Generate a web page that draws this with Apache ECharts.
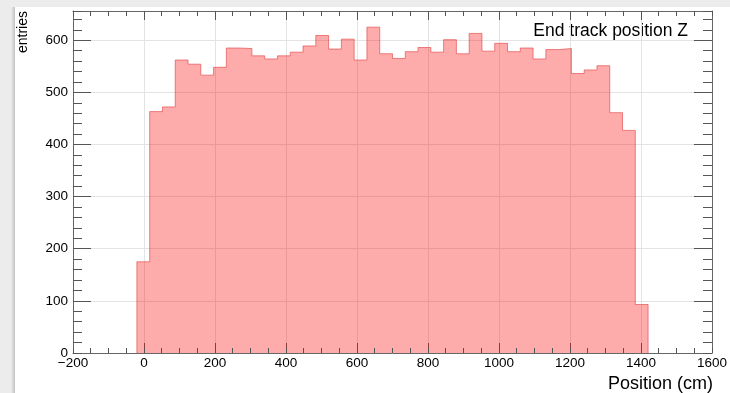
<!DOCTYPE html>
<html>
<head>
<meta charset="utf-8">
<script src="https://cdn.jsdelivr.net/npm/echarts@6/dist/echarts.min.js"></script>
<style>
  html, body { margin: 0; padding: 0; background: #fff; }
  #chart { width: 730px; height: 393px; }
</style>
</head>
<body>
<div id="chart"></div>
<script>
// Histogram bin edges (cm) and entries per bin
const binEdges = [-20, 16, 52, 88, 124, 160, 196, 232, 268, 304, 340, 376, 412, 448,
  484, 520, 556, 592, 628, 664, 700, 736, 772, 808, 844, 880, 916, 952, 988, 1024,
  1060, 1096, 1132, 1168, 1204, 1240, 1276, 1312, 1348, 1384, 1420];
const entries = [175, 463, 472, 562, 554, 533, 548, 585, 584, 570,
  564, 570, 577, 589, 609, 583, 602, 562, 625, 574,
  565, 578, 586, 577, 601, 574, 613, 579, 594, 578,
  585, 564, 582, 584, 536, 543, 551, 461, 427, 93];

// Axis ranges and tick spacing
const xRange = [-200, 1600];
const xSteps = [200, 50];
const yRange = [0, 656];
const ySteps = [100, 20];

const FONT = 'Liberation Sans';
const TICK = '#555';
const FRAME = '#666';

// Step outline: start at zero on the first edge, close back to zero on the last edge
const outline = [[binEdges[0], 0]];
entries.forEach((v, i) => outline.push([binEdges[i], v]));
outline.push([binEdges[binEdges.length - 1], entries[entries.length - 1]]);
outline.push([binEdges[binEdges.length - 1], 0]);

function fmt(v) { return v < 0 ? '\u2212' + Math.abs(v) : String(v); }

function makeAxis(range, pos, step, len, opts) {
  return Object.assign({
    type: 'value', position: pos, min: range[0], max: range[1], interval: step,
    axisLine: { show: false, onZero: false },
    axisTick: { show: true, inside: true, length: len, lineStyle: { color: TICK, width: 1 } },
    axisLabel: { show: false },
    splitLine: { show: false }
  }, opts || {});
}
const frameLine = { show: true, onZero: false, lineStyle: { color: FRAME, width: 1 } };
const gridLine = { show: true, lineStyle: { color: '#e3e3e3', width: 1 } };

const chart = echarts.init(document.getElementById('chart'), null, { renderer: 'canvas' });

chart.setOption({
  animation: false,
  backgroundColor: '#ececec',
  grid: { left: 73, right: 17, top: 11, bottom: 40, containLabel: false },
  xAxis: [
    makeAxis(xRange, 'bottom', xSteps[0], 10, {
      axisLabel: { show: true, formatter: fmt, fontFamily: FONT, fontSize: 13.5, color: '#000', margin: 3 },
      splitLine: gridLine
    }),
    makeAxis(xRange, 'bottom', xSteps[1], 5, { z: 5, axisLine: frameLine }),
    makeAxis(xRange, 'top', xSteps[0], 9),
    makeAxis(xRange, 'top', xSteps[1], 5, { z: 5, axisLine: frameLine })
  ],
  yAxis: [
    makeAxis(yRange, 'left', ySteps[0], 18, {
      axisLabel: { show: true, showMaxLabel: false, formatter: fmt, fontFamily: FONT, fontSize: 13.5, color: '#000', margin: 5 },
      splitLine: gridLine
    }),
    makeAxis(yRange, 'left', ySteps[1], 9, { z: 5, axisLine: frameLine }),
    makeAxis(yRange, 'right', ySteps[0], 18),
    makeAxis(yRange, 'right', ySteps[1], 9, { z: 5, axisLine: frameLine })
  ],
  series: [{
    type: 'line',
    xAxisIndex: 0,
    yAxisIndex: 0,
    step: 'end',
    data: outline,
    symbol: 'none',
    lineStyle: { color: 'rgba(225, 60, 60, 0.6)', width: 1 },
    areaStyle: { color: 'rgba(252, 0, 2, 0.33)', opacity: 1, origin: 'start' },
    z: 2
  }],
  graphic: [
    { type: 'rect', z: -10, shape: { x: 15, y: 7, width: 715, height: 386 }, style: { fill: '#ffffff' }, silent: true },
    { type: 'rect', z: -9, shape: { x: 11, y: 7, width: 4, height: 386 },
      style: { fill: new echarts.graphic.LinearGradient(0, 0, 1, 0, [
        { offset: 0, color: 'rgba(0,0,0,0)' }, { offset: 1, color: 'rgba(0,0,0,0.18)' }]) }, silent: true },
    { type: 'text', x: 22.7, y: 11, rotation: Math.PI / 2,
      style: { text: 'entries', font: '14px "' + FONT + '"', fill: '#000', align: 'right', verticalAlign: 'middle' } },
    { type: 'text', x: 688, y: 31,
      style: { text: 'End track position Z', font: '17.5px "' + FONT + '"', fill: '#000', align: 'right', verticalAlign: 'middle' } },
    { type: 'text', x: 713, y: 384,
      style: { text: 'Position (cm)', font: '18px "' + FONT + '"', fill: '#000', align: 'right', verticalAlign: 'middle' } }
  ]
});
</script>
</body>
</html>
